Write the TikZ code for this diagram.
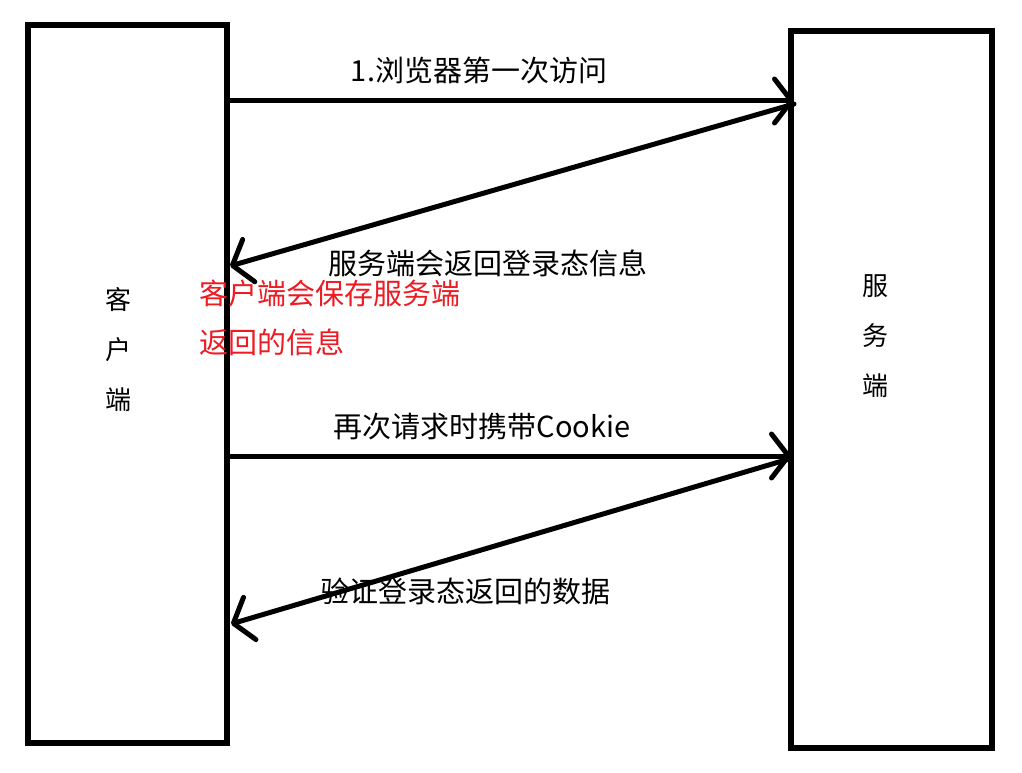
\documentclass[tikz,border=0pt]{standalone}
\usepackage{fontspec}
\setmainfont{Noto Sans CJK SC}
\usepackage{xcolor}
\usetikzlibrary{arrows.meta, positioning}

\definecolor{paintred}{RGB}{237,28,36}

\begin{document}
\begin{tikzpicture}[x=1pt, y=-1pt,
    box/.style={draw, line width=6pt, inner sep=0pt},
    msg/.style={line width=5pt, line cap=round,
        -{Straight Barb[length=17pt, width=44pt, line width=5pt, round]}},
    msgtext/.style={font=\fontsize{29}{35}\selectfont, inner sep=0pt},
    sidetext/.style={font=\fontsize{26}{50}\selectfont, align=center, inner sep=0pt}]

    % Page frame
    \useasboundingbox (0,0) rectangle (1022,773);

    % The two parties
    \node[box, minimum width=199pt, minimum height=718pt] (client) at (127.5,384) {};
    \node[box, minimum width=201pt, minimum height=717pt] (server) at (891.5,389.5) {};
    \node[sidetext] (clientname) at (118,350) {客\\户\\端};
    \node[sidetext] (servername) at (875,336) {服\\务\\端};

    % Ends of the messages on the box borders
    \coordinate (c1) at (227,101);
    \coordinate (s1) at (794,101);
    \coordinate (s2) at (794,104);
    \coordinate (c2) at (230,266);
    \coordinate (c3) at (227,456);
    \coordinate (s3) at (791,456);
    \coordinate (s4) at (789,459);
    \coordinate (c4) at (231,624);

    % Messages
    \draw[msg] (c1) -- (s1);
    \draw[msg] (s2) -- (c2);
    \draw[msg] (c3) -- (s3);
    \draw[msg] (s4) -- (c4);

    % Message labels
    \node[msgtext] (firstvisit) at (479,70) {1.浏览器第一次访问};
    \node[msgtext] (loginstate) at (488,263) {服务端会返回登录态信息};
    \node[msgtext] (withcookie) at (482,427) {再次请求时携带Cookie};
    \node[msgtext] (checkdata) at (465,591) {验证登录态返回的数据};

    % Note in red beside the client
    \node[msgtext, text=paintred, anchor=west] (savenote) at (199,293) {客户端会保存服务端};
    \node[msgtext, text=paintred, anchor=west] (savenote2) at (199,342) {返回的信息};
\end{tikzpicture}
\end{document}
